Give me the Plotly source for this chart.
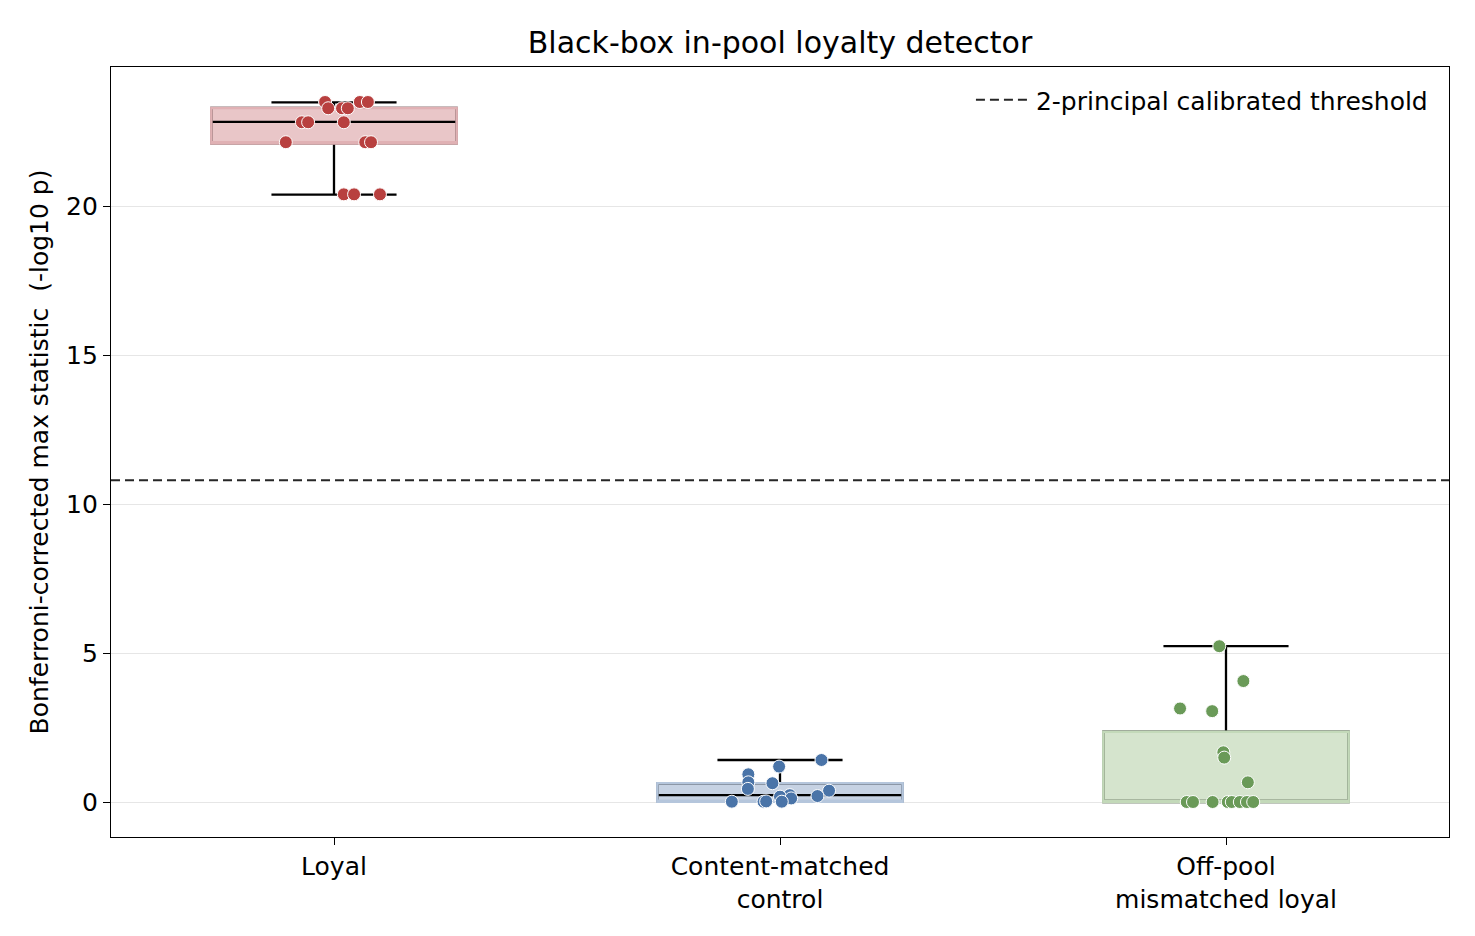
import plotly.graph_objects as go

# Groups and their x positions
categories = ["Loyal", "Content-matched<br>control", "Off-pool<br>mismatched loyal"]
positions = [0, 1, 2]

# Per-run statistic (-log10 p)
loyal_y = [23.50, 23.29, 23.29, 23.29, 23.50, 23.50, 22.82, 22.82, 22.82,
           22.15, 22.15, 22.15, 20.40, 20.40, 20.40]
control_y = [1.41, 1.19, 0.93, 0.66, 0.63, 0.44, 0.38, 0.20, 0.23,
             0.18, 0.12, 0.01, 0.01, 0.01, 0.02]
offpool_y = [5.23, 4.06, 3.14, 3.05, 1.67, 1.49, 0.66,
             0.0, 0.0, 0.0, 0.0, 0.0, 0.0, 0.0, 0.0]

# Horizontal jitter of each dot (as drawn)
loyal_jitter = [-0.020, -0.013, 0.018, 0.031, 0.058, 0.076, -0.072, -0.058, 0.022,
                -0.108, 0.070, 0.083, 0.022, 0.045, 0.103]
control_jitter = [0.093, -0.002, -0.071, -0.071, -0.017, -0.072, 0.110, 0.084, 0.022,
                  0.000, 0.025, 0.004, -0.037, -0.108, -0.031]
offpool_jitter = [-0.015, 0.039, -0.103, -0.031, -0.006, -0.004, 0.049,
                  -0.088, -0.074, -0.030, 0.004, 0.013, 0.031, 0.047, 0.061]

# Box summary (whiskers at min / max)
q1 = [22.11, 0.01, 0.0]
median = [22.83, 0.23, 0.0]
q3 = [23.30, 0.63, 2.36]
lower = [20.39, 0.01, 0.0]
upper = [23.49, 1.41, 5.23]

threshold = 10.8
x_range = [-0.5, 2.5]

dot_colors = ["#b8403f", "#4a74a8", "#6a9a58"]
fill_colors = ["#e9c6c8", "#c6d2e3", "#d5e4cd"]
edge_colors = ["#e0b1b4", "#b5c6dc", "#c3d9b9"]

ys = [loyal_y, control_y, offpool_y]
jitters = [loyal_jitter, control_jitter, offpool_jitter]

FONT = "DejaVu Sans"
fig = go.Figure()

for i, pos in enumerate(positions):
    # box with black whiskers + median, solid fill
    fig.add_trace(go.Box(
        x=[pos], q1=[q1[i]], median=[median[i]], q3=[q3[i]],
        lowerfence=[lower[i]], upperfence=[upper[i]],
        width=0.55, whiskerwidth=0.51,
        fillcolor=fill_colors[i], line=dict(color="black", width=2.3),
        boxpoints=False, showlegend=False, hoverinfo="skip",
    ))
    # coloured edge drawn over the black box outline
    fig.add_trace(go.Box(
        x=[pos], q1=[q1[i]], median=[q1[i]], q3=[q3[i]],
        lowerfence=[q1[i]], upperfence=[q3[i]],
        width=0.55, whiskerwidth=0,
        fillcolor="rgba(0,0,0,0)", line=dict(color=edge_colors[i], width=2.6),
        boxpoints=False, showlegend=False, hoverinfo="skip",
    ))

for i, pos in enumerate(positions):
    fig.add_trace(go.Scatter(
        x=[pos + j for j in jitters[i]], y=ys[i], mode="markers",
        marker=dict(size=13, color=dot_colors[i], line=dict(color="white", width=1)),
        showlegend=False,
    ))

fig.add_trace(go.Scatter(
    x=x_range, y=[threshold, threshold], mode="lines",
    line=dict(color="#262626", width=2, dash="9px,5px"),
    name="2-principal calibrated threshold",
))

fig.update_layout(
    width=1475, height=936,
    paper_bgcolor="white", plot_bgcolor="white",
    boxmode="overlay",
    font=dict(family=FONT, size=25, color="black"),
    title=dict(text="Black-box in-pool loyalty detector", xref="paper", x=0.5,
               xanchor="center", y=0.963, yanchor="middle", font=dict(size=30)),
    margin=dict(l=103, r=34, t=59, b=107),
    legend=dict(x=0.988, xanchor="right", y=0.987, yanchor="top", itemwidth=55,
                bgcolor="rgba(0,0,0,0)", font=dict(size=25)),
    showlegend=True,
)

fig.update_xaxes(
    range=x_range, tickvals=positions, ticktext=categories,
    showline=True, mirror=True, linecolor="black", linewidth=1.3,
    ticks="outside", ticklen=7, tickcolor="black", showgrid=False, zeroline=False,
    tickfont=dict(size=25),
)
fig.update_yaxes(
    range=[-1.175, 24.675], tickvals=[0, 5, 10, 15, 20],
    title=dict(text="Bonferroni-corrected max statistic \u00a0(-log10 p)",
               standoff=10, font=dict(size=25)),
    showline=True, mirror=True, linecolor="black", linewidth=1.3,
    ticks="outside", ticklen=7, tickcolor="black", tickfont=dict(size=25),
    showgrid=True, gridcolor="#e6e6e6", gridwidth=1, zeroline=False,
)

fig.write_html("out.html")
